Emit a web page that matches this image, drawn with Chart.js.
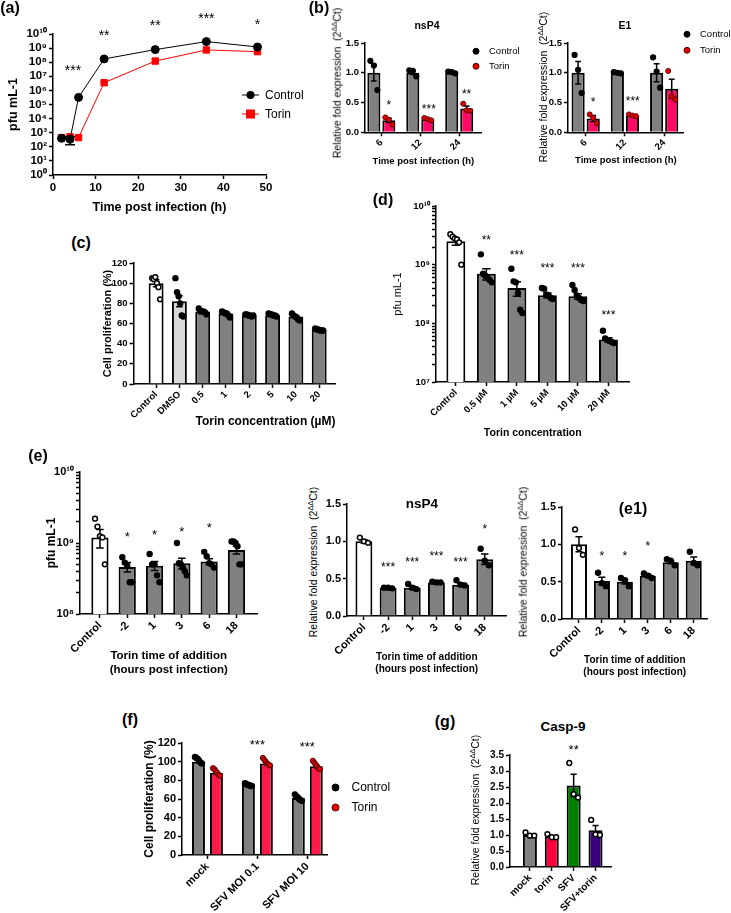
<!DOCTYPE html>
<html>
<head>
<meta charset="utf-8">
<script src="https://cdn.jsdelivr.net/npm/chart.js@4"></script>
<style>
  body { margin: 0; background: #fff; }
  #fig { position: relative; width: 731px; height: 913px; overflow: hidden; font-family: "Liberation Sans", Arial, sans-serif; color: #000; }
  #fig canvas { position: absolute; }
  .t { position: absolute; white-space: nowrap; line-height: 1; transform: translate(-50%, -50%); }
  .yt { position: absolute; white-space: nowrap; line-height: 1; transform: translate(-50%, -50%) rotate(-90deg); }
  .yt sup { font-size: 0.7em; vertical-align: 0.55em; line-height: 0; }
  .leg { position: absolute; white-space: nowrap; line-height: 1; display: flex; align-items: center; transform: translateY(-50%); }
</style>
</head>
<body>
<div id="fig"></div>
<script>
// ---- (a) virus titre over time ----
const aTime = [2, 4, 6, 12, 24, 36, 48];
const aControl = [400, 340, 3.2e5, 1.7e8, 7.8e8, 2.9e9, 1.2e9];
const aTorin = [450, 520, 450, 3.5e6, 1.2e8, 7.4e8, 5.6e8];
const aControlSem = [0, 200, 0, 0, 0, 0, 0];
const aStarX = [4.7, 12, 24, 36, 48];
const aStarY = [4.6e7, 1.4e10, 7e10, 2.2e11, 8e10];
const aStarT = ['***', '**', '**', '***', '*'];

// ---- (b) nsP4 / E1 qPCR ----
const bTimes = ['6', '12', '24'];
const nsp4Ctrl = [1.0, 1.0, 1.0];
const nsp4CtrlSem = [0.14, 0.03, 0.01];
const nsp4CtrlPts = [[1.2, 1.12, 0.71], [1.04, 1.03, 0.94], [1.02, 1.01, 0.99]];
const nsp4Tor = [0.2, 0.22, 0.4];
const nsp4TorSem = [0.035, 0.012, 0.04];
const nsp4TorPts = [[0.25, 0.21, 0.13], [0.24, 0.22, 0.2], [0.48, 0.37, 0.36]];
const nsp4StarX = [0.19, 1.22, 2.19];
const nsp4StarY = [0.51, 0.44, 0.69];
const nsp4StarT = ['*', '***', '**'];

const e1Ctrl = [1.0, 1.0, 1.0];
const e1CtrlSem = [0.19, 0.01, 0.15];
const e1CtrlPts = [[1.3, 1.05, 0.66], [1.01, 1.0, 0.99], [1.26, 1.02, 0.75]];
const e1Tor = [0.23, 0.28, 0.73];
const e1TorSem = [0.05, 0.01, 0.16];
const e1TorPts = [[0.3, 0.24, 0.15], [0.3, 0.28, 0.27], [1.03, 0.6, 0.55]];
const e1StarX = [0.19, 1.2];
const e1StarY = [0.56, 0.57];
const e1StarT = ['*', '***'];

// ---- (c) cell proliferation ----
const cConc = ['Control', 'DMSO', '0.5', '1', '2', '5', '10', '20'];
const cMean = [100, 82, 72, 70, 68, 68, 67, 54];
const cSem = [3.5, 5.5, 1, 1, 0.5, 0.5, 1, 0.5];
const cPts = [[105, 104, 106, 100, 96, 84], [105, 91, 87, 80, 68, 67], [75, 72, 72, 72, 71, 69],
  [72, 71, 70, 70, 68, 66], [69, 69, 68, 68, 67, 68], [70, 69, 69, 68, 68, 67],
  [70, 68, 67, 66, 64, 63], [55, 54, 54, 53, 53, 53]];

// ---- (d) titre vs torin concentration ----
const dConc = ['Control', '0.5 µM', '1 µM', '5 µM', '10 µM', '20 µM'];
const dMean = [2.5e9, 7e8, 4e8, 3e8, 2.9e8, 5.3e7];
const dSem = [3.5e8, 1.5e8, 1.1e8, 3e7, 3e7, 4e6];
const dPts = [[3.3e9, 3.0e9, 2.8e9, 2.7e9, 2.4e9, 1.0e9], [1.5e9, 7e8, 6.5e8, 6e8, 5.5e8, 5e8],
  [8.5e8, 5.2e8, 5e8, 3.3e8, 1.7e8, 1.5e8], [4e8, 3.9e8, 3.1e8, 3e8, 2.7e8, 2.6e8],
  [4.5e8, 3.7e8, 3e8, 2.7e8, 2.5e8, 2.4e8], [7.5e7, 5.5e7, 5.2e7, 5e7, 4.8e7, 4.6e7]];
const dStarX = [1, 2, 3, 4, 5];
const dStarY = [3.0e9, 1.65e9, 1.0e9, 1.0e9, 1.55e8];
const dStarT = ['**', '***', '***', '***', '***'];

// ---- (e) time of addition ----
const eTimes = ['Control', '-2', '1', '3', '6', '18'];
const ePfu = [1.2e9, 4.6e8, 4.8e8, 5.2e8, 5.5e8, 8e8];
const ePfuSem = [3.5e8, 7e7, 7e7, 9e7, 5e7, 1e8];
const ePfuPts = [[2.2e9, 1.7e9, 1.25e9, 1.2e9, 5e8], [6.3e8, 5.3e8, 4.8e8, 2.8e8, 2.8e8],
  [7e8, 5e8, 5e8, 3.5e8, 2.8e8], [1e9, 5.2e8, 5e8, 4.5e8, 4e8, 3.5e8],
  [7.5e8, 6.5e8, 5.2e8, 5e8, 4.5e8], [1.05e9, 1.05e9, 1e9, 9e8, 5e8, 5e8]];
const ePfuStarX = [1, 2, 3, 4];
const ePfuStarY = [1.38e9, 1.45e9, 1.6e9, 1.8e9];

const eNsp4 = [1.0, 0.38, 0.38, 0.45, 0.42, 0.76];
const eNsp4Sem = [0.02, 0.005, 0.02, 0.005, 0.02, 0.07];
const eNsp4Pts = [[1.05, 1.0, 0.98], [0.38, 0.38, 0.37], [0.43, 0.38, 0.36], [0.46, 0.45, 0.45], [0.48, 0.42, 0.41], [0.9, 0.74, 0.68]];
const eNsp4StarX = [1, 2, 3, 4, 5];
const eNsp4StarY = [0.69, 0.76, 0.84, 0.76, 1.21];
const eNsp4StarT = ['***', '***', '***', '***', '*'];

const eE1 = [1.0, 0.51, 0.5, 0.58, 0.76, 0.78];
const eE1Sem = [0.1, 0.05, 0.03, 0.02, 0.02, 0.05];
const eE1Pts = [[1.2, 0.95, 0.86], [0.62, 0.48, 0.44], [0.55, 0.52, 0.44], [0.61, 0.58, 0.55], [0.8, 0.78, 0.72], [0.9, 0.75, 0.72]];
const eE1StarX = [1, 2, 3];
const eE1StarY = [0.88, 0.88, 1.01];

// ---- (f) proliferation after infection ----
const fGroups = ['mock', 'SFV MOI 0.1', 'SFV MOI 10'];
const fCtrl = [100, 75, 61];
const fCtrlSem = [1.2, 0.5, 1];
const fCtrlPts = [[105, 104, 103, 101, 99, 98], [77, 76, 75, 75, 74, 74], [65, 63, 62, 60, 59, 58]];
const fTor = [88, 98, 95];
const fTorSem = [1.3, 1.2, 1.4];
const fTorPts = [[93, 92, 90, 88, 86, 85], [104, 102, 100, 98, 97, 96], [101, 99, 97, 95, 93, 92]];
const fStarX = [1, 2];
const fStarY = [121.5, 119.5];

// ---- (g) Casp-9 ----
const gGroups = ['mock', 'torin', 'SFV', 'SFV+torin'];
const gMean = [1.0, 0.95, 2.55, 1.15];
const gSem = [0.03, 0.03, 0.35, 0.15];
const gPts = [[1.08, 0.98, 0.98], [1.03, 0.93, 0.93], [3.25, 2.28, 2.17], [1.47, 1.02, 1.0]];
const gStarX = [2];
const gStarY = [3.75];

// ---------------------------------------------------------------
const FONT = '"Liberation Sans", Arial, sans-serif';
Chart.defaults.font.family = FONT;
Chart.defaults.color = '#000';
Chart.defaults.plugins.legend.display = false;
Chart.defaults.plugins.tooltip.enabled = false;

const GRAY = '#808080';
const SUP = '⁰¹²³⁴⁵⁶⁷⁸⁹';
const pow10 = v => {
  const l = Math.log10(v), e = Math.round(l);
  return Math.abs(l - e) < 1e-6 ? '10' + String(e).split('').map(d => SUP[d]).join('') : '';
};
const zipStars = (xs, ys, ts) => xs.map((x, i) => ({ x, y: ys[i], t: Array.isArray(ts) ? ts[i] : ts }));

// error bars + significance stars
const marks = {
  id: 'marks',
  afterDatasetDraw(chart, args) {
    const ds = chart.data.datasets[args.index];
    if (!ds.err) return;
    const meta = args.meta, y = chart.scales.y, ctx = chart.ctx;
    ctx.save();
    ctx.strokeStyle = '#000';
    ctx.lineWidth = 1.5;
    meta.data.forEach((el, i) => {
      const e = ds.err[i];
      if (!e) return;
      const v = meta.controller.getParsed(i).y;
      const hi = y.getPixelForValue(v + e), lo = y.getPixelForValue(v - e);
      const c = el.width ? el.width * 0.22 : 5;
      ctx.beginPath();
      ctx.moveTo(el.x, hi); ctx.lineTo(el.x, lo);
      ctx.moveTo(el.x - c, hi); ctx.lineTo(el.x + c, hi);
      ctx.moveTo(el.x - c, lo); ctx.lineTo(el.x + c, lo);
      ctx.stroke();
    });
    ctx.restore();
  },
  afterDraw(chart, args, opts) {
    if (!opts.stars) return;
    const ctx = chart.ctx, { x, y } = chart.scales, size = opts.size || 12;
    ctx.save();
    ctx.fillStyle = '#000';
    ctx.textAlign = 'center';
    ctx.textBaseline = 'alphabetic';
    ctx.font = size + 'px ' + FONT;
    opts.stars.forEach(s => ctx.fillText(s.t, x.getPixelForValue(s.x), y.getPixelForValue(s.y) + 0.575 * size));
    ctx.restore();
  }
};
Chart.register(marks);

const fig = document.getElementById('fig');

// place a canvas so that its plot area lands on rect = [left, top, right, bottom]
function panel(rect, yW, xH, padTop, padRight, cfg) {
  const [x0, y0, x1, y1] = rect;
  const c = document.createElement('canvas');
  const w = Math.round(x1 - x0 + yW + padRight), h = Math.round(y1 - y0 + padTop + xH);
  c.width = w; c.height = h;
  c.style.left = (x0 - yW) + 'px';
  c.style.top = (y0 - padTop) + 'px';
  c.style.width = w + 'px';
  c.style.height = h + 'px';
  fig.appendChild(c);
  cfg.options.responsive = false;
  cfg.options.animation = false;
  cfg.options.layout = { padding: { top: padTop, right: padRight, left: 0, bottom: 0 } };
  cfg.options.scales.x.afterFit = s => { s.height = xH; s.paddingLeft = 0; s.paddingRight = 0; };
  cfg.options.scales.y.afterFit = s => { s.width = yW; s.paddingTop = 0; s.paddingBottom = 0; };
  return new Chart(c, cfg);
}

const grid = () => ({ display: true, drawOnChartArea: false, drawTicks: true, tickLength: 4, tickWidth: 1.5, tickColor: '#000', offset: false });
const border = () => ({ display: true, color: '#000', width: 1.5 });
const title = (text, size, weight, align, lh) => text
  ? { display: true, text, align: align || 'center', padding: 0, font: { size, weight: weight || 'bold', lineHeight: lh || 1 } }
  : { display: false };

function xCat(labels, min, max, o) {
  const rot = o.rot === undefined ? 45 : o.rot;
  return {
    type: 'linear', min, max, offset: false,
    afterBuildTicks: s => { s.ticks = labels.map((_, i) => ({ value: i })); },
    ticks: { autoSkip: false, callback: v => labels[v], minRotation: rot, maxRotation: rot, padding: 1, font: { size: o.size, weight: 'bold' } },
    grid: grid(), border: border(),
    title: title(o.title, o.tsize, o.tweight, o.align, o.lh)
  };
}
function yLin(min, max, step, o) {
  return {
    type: 'linear', min, max,
    ticks: { stepSize: step, autoSkip: false, padding: 2, font: { size: o.size, weight: 'bold' }, callback: v => o.dec ? v.toFixed(o.dec) : String(v) },
    grid: grid(), border: border(),
    title: title(o.title, o.tsize, o.tweight)
  };
}
function yLog(lo, hi, minor, o) {
  const list = [];
  for (let e = lo; e <= hi; e++) {
    list.push(10 ** e);
    if (minor && e < hi) for (let m = 2; m <= 9; m++) list.push(m * 10 ** e);
  }
  return {
    type: 'logarithmic', min: 10 ** lo, max: 10 ** hi,
    afterBuildTicks: s => { s.ticks = list.map(v => ({ value: v })); },
    ticks: { autoSkip: false, padding: 2, font: { size: o.size, weight: 'bold' }, callback: v => pow10(v) },
    grid: grid(), border: border(),
    title: title(o.title, o.tsize, o.tweight)
  };
}

function spread(list, shift, width, start) {
  const out = [];
  list.forEach((vals, j) => {
    const n = vals.length;
    vals.forEach((v, k) => {
      const off = n > 1 ? (k / (n - 1) - 0.5) * width : 0;
      out.push({ x: start + j + shift + off, y: v });
    });
  });
  return out;
}
function bars(vals, sem, color, extra) {
  return Object.assign({
    type: 'bar', data: vals.map((v, i) => ({ x: i, y: v })), err: sem,
    backgroundColor: color, borderColor: '#000', borderWidth: 2, order: 2
  }, extra);
}
function dots(list, o) {
  return {
    type: 'scatter', data: spread(list, o.shift || 0, o.width, o.start || 0), order: 0, clip: false,
    pointRadius: o.r || 2.6, pointBackgroundColor: o.fill, pointBorderColor: o.stroke || '#000', pointBorderWidth: o.bw || 1.2
  };
}
const OPEN = { fill: '#fff', stroke: '#000', bw: 1.5, r: 2.4 };
const FILL = { fill: '#000', stroke: '#000', r: 2.6 };

// ---- (a) ----
panel([53, 34, 266, 175], 46, 39, 30, 12, {
  type: 'line',
  data: { datasets: [
    { data: aTime.map((t, i) => ({ x: t, y: aControl[i] })), err: aControlSem, borderColor: '#000', borderWidth: 1,
      pointStyle: 'circle', pointRadius: 4, pointBackgroundColor: '#000', pointBorderColor: '#000' },
    { data: aTime.map((t, i) => ({ x: t, y: aTorin[i] })), borderColor: '#ff0000', borderWidth: 1,
      pointStyle: 'rect', pointRadius: 4.5, pointBackgroundColor: '#ff0000', pointBorderColor: '#ff0000' }
  ] },
  options: {
    plugins: { marks: { stars: zipStars(aStarX, aStarY, aStarT), size: 14 } },
    scales: {
      x: { type: 'linear', min: 0, max: 50, ticks: { stepSize: 10, padding: 2, font: { size: 11.5, weight: 'bold' }, maxRotation: 0 },
        grid: grid(), border: border(), title: title('Time post infection (h)', 12.5) },
      y: yLog(0, 10, false, { size: 11.5, title: 'pfu mL-1', tsize: 12.5 })
    }
  }
});

// ---- (b) nsP4 and E1 ----
const TORB = '#ff0a64';
const redDot = { fill: '#e00000', stroke: '#5a0000', r: 2.5, bw: 1 };
function bPanel(rect, xH, ctrl, ctrlSem, ctrlPts, tor, torSem, torPts, stars, min, max) {
  panel(rect, 30, xH, 8, 5, {
    type: 'bar',
    data: { datasets: [
      bars(ctrl, ctrlSem, GRAY, { categoryPercentage: 0.77, barPercentage: 0.87 }),
      bars(tor, torSem, TORB, { categoryPercentage: 0.77, barPercentage: 0.87 }),
      dots(ctrlPts, Object.assign({ shift: -0.1925, width: 0.18 }, FILL, { r: 2.5 })),
      dots(torPts, Object.assign({ shift: 0.1925, width: 0.18 }, redDot))
    ] },
    options: {
      plugins: { marks: { stars, size: 12 } },
      scales: {
        x: xCat(bTimes, min, max, { size: 9.5, title: 'Time post infection (h)', tsize: 9.5 }),
        y: yLin(0, 1.5, 0.5, { size: 9.5, dec: 1 })
      }
    }
  });
}
bPanel([365, 43, 482, 132], 33.75, nsp4Ctrl, nsp4CtrlSem, nsp4CtrlPts, nsp4Tor, nsp4TorSem, nsp4TorPts,
  zipStars(nsp4StarX, nsp4StarY, nsp4StarT), -0.42, 2.58);
bPanel([568, 43, 684, 132], 32.75, e1Ctrl, e1CtrlSem, e1CtrlPts, e1Tor, e1TorSem, e1TorPts,
  zipStars(e1StarX, e1StarY, e1StarT), -0.45, 2.5);

// ---- (c) ----
panel([133, 263, 336, 384], 31.5, 44, 8, 4, {
  type: 'bar',
  data: { datasets: [
    bars(cMean, cSem, ['#ffffff', '#d9d9d9', GRAY, GRAY, GRAY, GRAY, GRAY, GRAY], { categoryPercentage: 1, barPercentage: 0.64 }),
    dots(cPts.slice(0, 1), Object.assign({ width: 0.34 }, OPEN)),
    dots(cPts.slice(1), Object.assign({ width: 0.34, start: 1 }, FILL))
  ] },
  options: {
    scales: {
      x: xCat(cConc, -0.97, 7.7, { size: 9.5, title: 'Torin concentration (µM)', tsize: 12, align: 'end' }),
      y: yLin(0, 120, 20, { size: 9.5, title: 'Cell proliferation (%)', tsize: 11 })
    }
  }
});

// ---- (d) ----
panel([436, 206, 630, 382], 44, 56, 8, 5, {
  type: 'bar',
  data: { datasets: [
    bars(dMean, dSem, ['#ffffff', GRAY, GRAY, GRAY, GRAY, GRAY], { categoryPercentage: 1, barPercentage: 0.62 }),
    dots(dPts.slice(0, 1), Object.assign({ width: 0.36 }, OPEN)),
    dots(dPts.slice(1), Object.assign({ width: 0.36, start: 1 }, FILL))
  ] },
  options: {
    plugins: { marks: { stars: zipStars(dStarX, dStarY, dStarT), size: 12 } },
    scales: {
      x: xCat(dConc, -0.65, 5.69, { size: 9.5, title: 'Torin concentration', tsize: 10.5 }),
      y: yLog(7, 10, true, { size: 9.5, title: 'pfu mL-1', tsize: 11, tweight: 'normal' })
    }
  }
});

// ---- (e) pfu ----
panel([80, 472, 258, 614], 34, 62, 8, 5, {
  type: 'bar',
  data: { datasets: [
    bars(ePfu, ePfuSem, ['#ffffff', GRAY, GRAY, GRAY, GRAY, GRAY], { categoryPercentage: 1, barPercentage: 0.63 }),
    dots(ePfuPts.slice(0, 1), Object.assign({ width: 0.36 }, OPEN)),
    dots(ePfuPts.slice(1), Object.assign({ width: 0.36, start: 1 }, FILL))
  ] },
  options: {
    plugins: { marks: { stars: zipStars(ePfuStarX, ePfuStarY, '*'), size: 13 } },
    scales: {
      x: xCat(eTimes, -0.73, 5.77, { size: 11, title: ['Torin time of addition', '(hours post infection)'], tsize: 11.5, lh: 1.15 }),
      y: yLog(8, 10, true, { size: 11, title: 'pfu mL-1', tsize: 12 })
    }
  }
});

// ---- (e) nsP4 and e1 ----
function eQ(rect, mean, sem, list, stars, min, max) {
  panel(rect, 28, 59, 8, 5, {
    type: 'bar',
    data: { datasets: [
      bars(mean, sem, ['#ffffff', GRAY, GRAY, GRAY, GRAY, GRAY], { categoryPercentage: 1, barPercentage: 0.7 }),
      dots(list.slice(0, 1), Object.assign({ width: 0.34 }, OPEN)),
      dots(list.slice(1), Object.assign({ width: 0.34, start: 1 }, FILL))
    ] },
    options: {
      plugins: { marks: { stars, size: 12 } },
      scales: {
        x: xCat(eTimes, min, max, { size: 11, title: ['Torin time of addition', '(hours post infection)'], tsize: 10, lh: 1.2 }),
        y: yLin(0, 1.5, 0.5, { size: 11, dec: 1 })
      }
    }
  });
}
eQ([347, 504, 507, 616], eNsp4, eNsp4Sem, eNsp4Pts, zipStars(eNsp4StarX, eNsp4StarY, eNsp4StarT), -0.7, 5.9);
eQ([562, 507, 708, 619], eE1, eE1Sem, eE1Pts, zipStars(eE1StarX, eE1StarY, '*'), -0.74, 5.6);

// ---- (f) ----
panel([182, 743, 328, 855], 38, 60, 10, 5, {
  type: 'bar',
  data: { datasets: [
    bars(fCtrl, fCtrlSem, GRAY, { categoryPercentage: 0.72, barPercentage: 0.72 }),
    bars(fTor, fTorSem, '#ff1a4a', { categoryPercentage: 0.72, barPercentage: 0.72 }),
    dots(fCtrlPts, Object.assign({ shift: -0.18, width: 0.14 }, FILL)),
    dots(fTorPts, Object.assign({ shift: 0.18, width: 0.14 }, redDot, { r: 2.6 }))
  ] },
  options: {
    plugins: { marks: { stars: zipStars(fStarX, fStarY, '***'), size: 13 } },
    scales: {
      x: xCat(fGroups, -0.51, 2.41, { size: 11 }),
      y: yLin(0, 120, 20, { size: 11, title: 'Cell proliferation (%)', tsize: 12 })
    }
  }
});

// ---- (g) ----
panel([510, 755, 612, 867], 30, 50, 20, 5, {
  type: 'bar',
  data: { datasets: [
    bars(gMean, gSem, [GRAY, '#ff0040', '#008000', '#3a0080'], { categoryPercentage: 1, barPercentage: 0.64 }),
    dots(gPts, Object.assign({ width: 0.4 }, OPEN))
  ] },
  options: {
    plugins: { marks: { stars: zipStars(gStarX, gStarY, '**'), size: 13 } },
    scales: {
      x: xCat(gGroups, -0.91, 3.73, { size: 10 }),
      y: yLin(0, 3.5, 0.5, { size: 10, dec: 1 })
    }
  }
});

// ---- text overlays ----
function txt(s, cx, cy, font) {
  const d = document.createElement('div');
  d.className = 't';
  d.style.left = cx + 'px'; d.style.top = cy + 'px';
  d.style.font = font + ' ' + FONT;
  d.textContent = s;
  fig.appendChild(d);
}
[
  ['(a)', 10, 8, 'bold 16px'], ['(b)', 319, 8, 'bold 16px'], ['(c)', 81, 243, 'bold 16px'],
  ['(d)', 383, 200, 'bold 16px'], ['(e)', 38, 456, 'bold 16px'], ['(e1)', 633, 509, 'bold 16px'],
  ['(f)', 130, 720, 'bold 16px'], ['(g)', 445, 722, 'bold 16px'],
  ['nsP4', 427, 25, 'bold 10.5px'], ['E1', 625, 25, 'bold 10.5px'],
  ['nsP4', 422, 503, 'bold 13.5px'], ['Casp-9', 563, 726, 'bold 13.5px']
].forEach(a => txt(...a));

const REL = 'Relative fold expression&nbsp;&nbsp;(2<sup>ΔΔ</sup>Ct)';
[[337, 83], [543, 87], [313, 562], [523, 562], [475, 810]].forEach(([x, y]) => {
  const d = document.createElement('div');
  d.className = 'yt';
  d.style.left = x + 'px'; d.style.top = y + 'px';
  d.style.fontSize = '10.5px';
  d.innerHTML = REL;
  fig.appendChild(d);
});

const svgLineDot = c => `<svg width="17" height="10"><line x1="0" y1="5" x2="17" y2="5" stroke="${c}" stroke-width="1"/><circle cx="8.5" cy="5" r="4" fill="${c}"/></svg>`;
const svgLineSq = c => `<svg width="17" height="10"><line x1="0" y1="5" x2="17" y2="5" stroke="${c}" stroke-width="1"/><rect x="4" y="0.5" width="9" height="9" fill="${c}"/></svg>`;
const svgDot = (f, s, r) => `<svg width="${2 * r + 2}" height="${2 * r + 2}"><circle cx="${r + 1}" cy="${r + 1}" r="${r}" fill="${f}" stroke="${s}" stroke-width="1"/></svg>`;
function leg(svg, label, left, cy, gap, size) {
  const d = document.createElement('div');
  d.className = 'leg';
  d.style.left = left + 'px'; d.style.top = cy + 'px';
  d.style.fontSize = size + 'px'; d.style.gap = gap + 'px';
  d.innerHTML = svg + '<span>' + label + '</span>';
  fig.appendChild(d);
}
leg(svgLineDot('#000'), 'Control', 241.5, 95, 6.5, 12);
leg(svgLineSq('#ff0000'), 'Torin', 241.5, 114, 6.5, 12);
leg(svgDot('#000', '#000', 3), 'Control', 472, 51, 9, 9.5);
leg(svgDot('#e00000', '#5a0000', 3), 'Torin', 472, 66, 9, 9.5);
leg(svgDot('#000', '#000', 3), 'Control', 683, 34, 9, 9.5);
leg(svgDot('#e00000', '#5a0000', 3), 'Torin', 683, 50, 9, 9.5);
leg(svgDot('#000', '#000', 3.5), 'Control', 330.5, 787, 12, 12);
leg(svgDot('#e00000', '#5a0000', 3.5), 'Torin', 330.5, 807, 12, 12);
</script>
</body>
</html>
